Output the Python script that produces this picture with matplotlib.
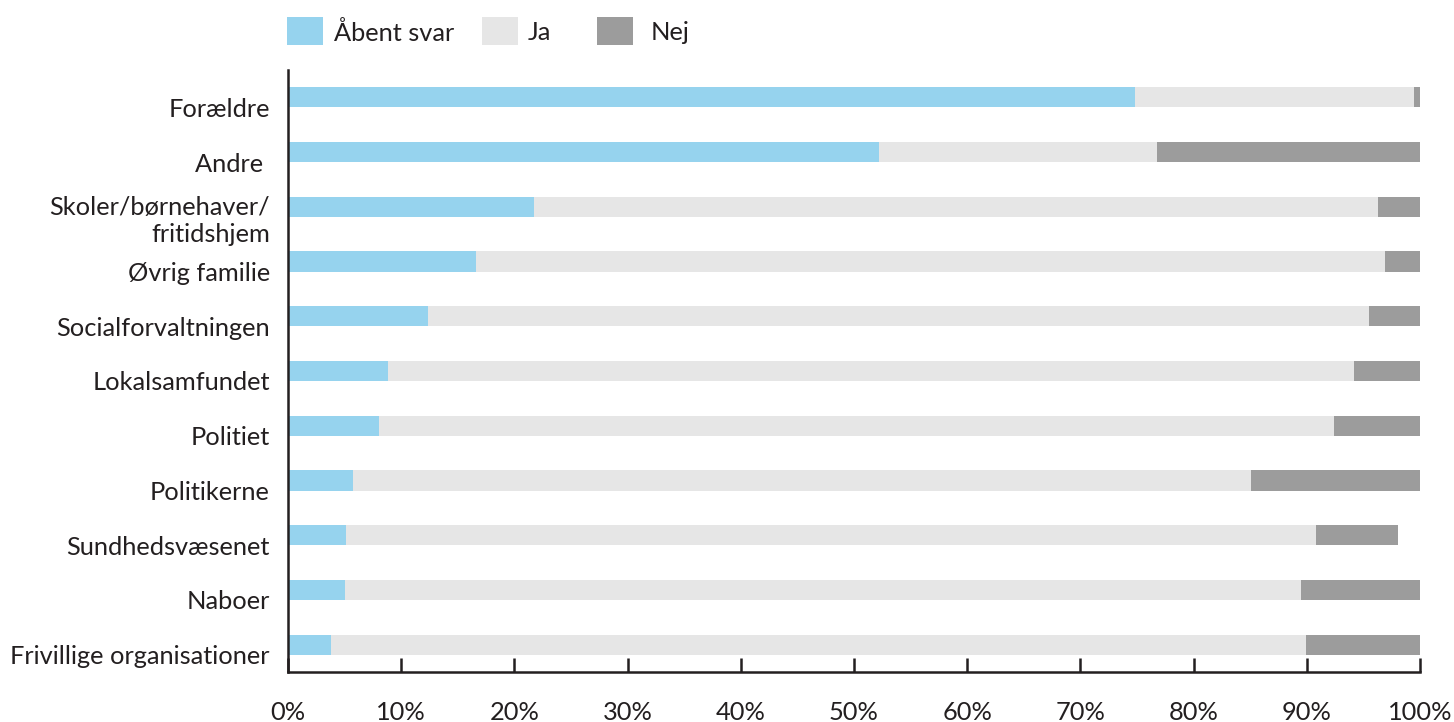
import matplotlib
matplotlib.use("Agg")
import matplotlib.pyplot as plt
import matplotlib.transforms as mtransforms
from matplotlib.patches import Rectangle
import numpy as np

plt.rcParams["font.family"] = ["Lato", "DejaVu Sans"]

categories = ["Forældre", "Andre ", "Skoler/børnehaver/\nfritidshjem", "Øvrig familie",
              "Socialforvaltningen", "Lokalsamfundet", "Politiet", "Politikerne",
              "Sundhedsvæsenet", "Naboer", "Frivillige organisationer"]
aabent = [74.8, 52.2, 21.7, 16.6, 12.4, 8.8, 8.0, 5.7, 5.1, 5.0, 3.8]
ja = [24.7, 24.6, 74.6, 80.3, 83.1, 85.4, 84.4, 79.4, 85.7, 84.5, 86.1]
nej = [0.5, 23.2, 3.7, 3.1, 4.5, 5.8, 7.6, 14.9, 7.3, 10.5, 10.1]
series_names = ["Åbent svar", "Ja", "Nej"]
colors = ["#96D3EE", "#E6E6E6", "#9C9C9C"]
text_color = "#231F20"
W, H = 1454, 722

fig = plt.figure(figsize=(W / 100, H / 100), dpi=100)
ax = fig.add_axes([288 / W, 1 - 672 / H, 1132 / W, 602 / H])

y = np.arange(len(categories))
left = np.zeros(len(categories))
for vals, c in zip([aabent, ja, nej], colors):
    ax.barh(y, vals, left=left, height=0.37, color=c, edgecolor="none")
    left += np.array(vals)

ax.set_xlim(0, 100)
ax.set_ylim(len(categories) - 0.5, -0.5)
ax.set_yticks(y)
ax.set_yticklabels(categories, fontsize=18.3, color=text_color)
ax.tick_params(axis="y", length=0, pad=13)
ax.set_xticks(np.arange(0, 101, 10))
ax.set_xticklabels([f"{v}%" for v in range(0, 101, 10)], fontsize=18.3, color=text_color)
ax.tick_params(axis="x", direction="in", length=10, width=1.8, color=text_color, pad=21)

# labels sit a bit below the bar centres in the original
shift = mtransforms.ScaledTranslation(0, -10 / 100, fig.dpi_scale_trans)
for lab in ax.get_yticklabels():
    lab.set_transform(lab.get_transform() + shift)

for s in ["top", "right"]:
    ax.spines[s].set_visible(False)
for s in ["left", "bottom"]:
    ax.spines[s].set_linewidth(1.8)
    ax.spines[s].set_color(text_color)

# legend drawn by hand to match spacing
patch_x = [287, 482, 597]
text_x = [334, 528, 651]
for px, tx, name, c in zip(patch_x, text_x, series_names, colors):
    fig.add_artist(Rectangle((px / W, 1 - 45 / H), 36 / W, 28 / H, facecolor=c,
                             edgecolor="none", transform=fig.transFigure))
    fig.text(tx / W, 1 - 33 / H, name, fontsize=18.3, color=text_color, va="center", ha="left")

fig.savefig("out.png", dpi=100)
